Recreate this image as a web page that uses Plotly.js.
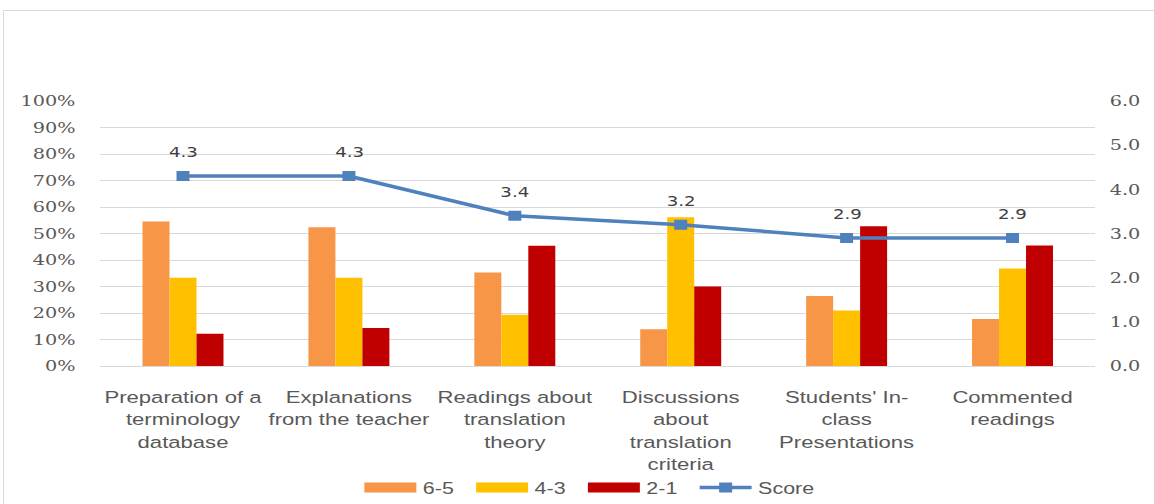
<!DOCTYPE html>
<html>
<head>
<meta charset="utf-8">
<script src="https://cdn.plot.ly/plotly-3.0.1.min.js"></script>
<style>
  html, body { margin: 0; padding: 0; background: #ffffff; overflow: hidden; }
  #frame {
    position: absolute; left: 3px; top: 10px; width: 1200px; height: 540px;
    border: 1.5px solid #d9d9d9; box-sizing: border-box;
  }
  #wrap {
    position: absolute; left: 0; top: 0; width: 888px; height: 504px;
    transform: scaleX(1.2995); transform-origin: 0 0;
  }
</style>
</head>
<body>
<div id="frame"></div>
<div id="wrap"><div id="chart" style="width:888px;height:504px;"></div></div>
<script>
// Teaching activities rated by students
const categories = [
  "Preparation of a<br>terminology<br>database",
  "Explanations<br>from the teacher",
  "Readings about<br>translation<br>theory",
  "Discussions<br>about<br>translation<br>criteria",
  "Students' In-<br>class<br>Presentations",
  "Commented<br>readings"
];
// Share of answers per rating band
const band65 = [0.545, 0.524, 0.353, 0.139, 0.264, 0.177];
const band43 = [0.333, 0.333, 0.193, 0.561, 0.209, 0.368];
const band21 = [0.122, 0.143, 0.454, 0.300, 0.527, 0.455];
// Mean score (1-6 scale)
const score = [4.3, 4.3, 3.4, 3.2, 2.9, 2.9];

const bandNames = ["6-5", "4-3", "2-1"];
const bandColors = ["#F79646", "#FFC000", "#C00000"];
const scoreColor = "#4F81BD";

const labelFont = { family: "Liberation Sans, Arial, sans-serif", size: 17, color: "#595959" };
const legendFont = { family: "Liberation Sans, Arial, sans-serif", size: 16.5, color: "#595959" };
const tickFont = { family: "DejaVu Serif, serif", size: 14.8, color: "#595959" };

const bands = [band65, band43, band21];
const traces = bands.map((vals, i) => ({
  type: "bar",
  x: categories,
  y: vals,
  name: bandNames[i],
  marker: { color: bandColors[i] },
  showlegend: false,
  hoverinfo: "skip"
}));

// Legend entries drawn as wide swatches
bandNames.forEach((n, i) => {
  traces.push({
    type: "scatter", mode: "lines",
    x: [null], y: [null],
    name: n,
    line: { color: bandColors[i], width: 10 },
    showlegend: true, hoverinfo: "skip"
  });
});

traces.push({
  type: "scatter", mode: "lines+markers",
  x: categories, y: score,
  yaxis: "y2",
  name: "Score",
  line: { color: scoreColor, width: 3.5 },
  marker: { symbol: "square", size: 10, color: scoreColor },
  hoverinfo: "skip"
});

// Blank trailing legend slot so the last label has room
traces.push({
  type: "scatter", mode: "lines",
  x: [null], y: [null], name: " ",
  line: { color: "rgba(0,0,0,0)", width: 0 },
  showlegend: true, hoverinfo: "skip"
});

const annotations = score.map((v, i) => ({
  x: categories[i], y: v, xref: "x", yref: "y2",
  text: v.toFixed(1), showarrow: false, yshift: 24,
  font: { family: "DejaVu Sans, sans-serif", size: 14, color: "#404040" }
}));

const layout = {
  width: 888, height: 504,
  margin: { l: 77, r: 44.6, t: 101, b: 138, pad: 0, autoexpand: false },
  paper_bgcolor: "rgba(0,0,0,0)", plot_bgcolor: "rgba(0,0,0,0)",
  barmode: "group", bargap: 0.512, bargroupgap: 0,
  showlegend: true,
  legend: {
    orientation: "h", x: 0.259, xanchor: "left",
    yref: "container", y: 0.032, yanchor: "middle",
    font: legendFont, itemwidth: 40, entrywidth: 31, traceorder: "normal",
    bgcolor: "rgba(0,0,0,0)"
  },
  xaxis: {
    type: "category", tickfont: labelFont, showgrid: false, zeroline: false,
    showline: false, ticks: "outside", ticklen: 16, tickcolor: "rgba(0,0,0,0)",
    automargin: false, fixedrange: true
  },
  yaxis: {
    range: [0, 1], dtick: 0.1, tickformat: ".0%", tickfont: tickFont,
    showgrid: true, gridcolor: "#d9d9d9", gridwidth: 1, zeroline: true,
    zerolinecolor: "#d9d9d9", zerolinewidth: 1, showline: false,
    ticks: "outside", ticklen: 15, tickcolor: "rgba(0,0,0,0)",
    automargin: false, fixedrange: true
  },
  yaxis2: {
    overlaying: "y", side: "right", range: [0, 6], dtick: 1, tickformat: ".1f",
    tickfont: tickFont, showgrid: false, zeroline: false, showline: false,
    ticks: "outside", ticklen: 7, tickcolor: "rgba(0,0,0,0)",
    automargin: false, fixedrange: true
  },
  annotations: annotations
};

Plotly.newPlot("chart", traces, layout, { displayModeBar: false, staticPlot: true });
</script>
</body>
</html>
